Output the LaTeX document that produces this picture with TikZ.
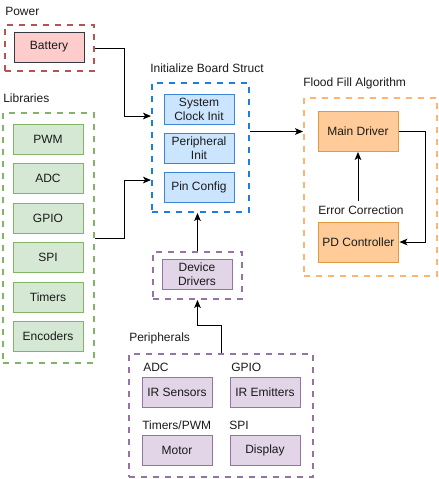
\documentclass[tikz,border=0pt]{standalone}
\usepackage{fontspec}
\setmainfont{Liberation Sans}
\usetikzlibrary{arrows.meta,calc}
\definecolor{redD}{HTML}{B85450}
\definecolor{redF}{HTML}{FFCCCC}
\definecolor{darkS}{HTML}{36393D}
\definecolor{grnD}{HTML}{82B366}
\definecolor{grnF}{HTML}{D5E8D4}
\definecolor{bluD}{HTML}{1A7FE0}
\definecolor{bluF}{HTML}{CCE5FF}
\definecolor{bluS}{HTML}{3D85D6}
\definecolor{orgD}{HTML}{FFB570}
\definecolor{orgF}{HTML}{FFCC99}
\definecolor{orgS}{HTML}{E39A3C}
\definecolor{purD}{HTML}{9673A6}
\definecolor{purF}{HTML}{E1D5E7}
\definecolor{txt}{HTML}{1A1A1A}
\tikzset{
  every node/.style={font=\fontsize{9}{10.5}\selectfont, text=txt},
  group/.style={draw, line width=1.5pt, dash pattern=on 4.5pt off 4.5pt, minimum width=#1},
  inbox/.style={draw, line width=0.75pt, align=center, minimum width=52.5pt, minimum height=22.5pt, inner sep=1pt},
  bigbox/.style={draw, line width=0.75pt, align=center, minimum width=60pt, minimum height=30pt},
  lbl/.style={anchor=west, inner sep=0pt},
  arr/.style={draw=black, line width=0.75pt, -{Stealth[length=6pt,width=5pt,inset=1.5pt]}},
}
\begin{document}
\begin{tikzpicture}[x=0.75pt,y=-0.75pt]
\useasboundingbox (0,0) rectangle (439,479);
% Power
\node[lbl] (lpow) at (5,11) {Power};
\node[group=66.75pt, draw=redD, minimum height=34.5pt] (power) at (49.5,48) {};
\node[inbox, draw=darkS, fill=redF] (bat) at (49,47) {Battery};
% Libraries
\node[lbl] (llib) at (3,98) {Libraries};
\node[group=68.25pt, draw=grnD, minimum height=187.5pt] (lib) at (48.5,238) {};
\node[inbox, draw=grnD, fill=grnF] (pwm) at (48,139) {PWM};
\node[inbox, draw=grnD, fill=grnF] (adc) at (48,178.5) {ADC};
\node[inbox, draw=grnD, fill=grnF] (gpio) at (48,218) {GPIO};
\node[inbox, draw=grnD, fill=grnF] (spi) at (48,257.5) {SPI};
\node[inbox, draw=grnD, fill=grnF] (tim) at (48,297) {Timers};
\node[inbox, draw=grnD, fill=grnF] (enc) at (48,336.5) {Encoders};
% Init
\node[lbl] (linit) at (150,68) {Initialize Board Struct};
\node[group=72.75pt, draw=bluD, minimum height=96.75pt] (init) at (200.5,147.5) {};
\node[inbox, draw=bluS, fill=bluF] (sys) at (199,109) {System\\Clock Init};
\node[inbox, draw=bluS, fill=bluF] (pinit) at (199,148) {Peripheral\\Init};
\node[inbox, draw=bluS, fill=bluF] (pin) at (199,187) {Pin Config};
% Flood fill
\node[lbl] (lflood) at (303,83) {Flood Fill Algorithm};
\node[group=99.75pt, draw=orgD, minimum height=133.5pt] (flood) at (370.5,187) {};
\node[bigbox, draw=orgS, fill=orgF] (main) at (358,131.5) {Main Driver};
\node[lbl] (ec) at (318,210) {Error Correction};
\node[bigbox, draw=orgS, fill=orgF] (pd) at (358.5,242) {PD Controller};
% Device drivers
\node[group=66.75pt, draw=purD, minimum height=35.25pt] (ddbox) at (197.5,275.5) {};
\node[inbox, draw=purD, fill=purF] (dd) at (197,274) {Device\\Drivers};
% Peripherals
\node[lbl] (lper) at (129,338) {Peripherals};
\node[group=138pt, draw=purD, minimum height=92.25pt] (periph) at (221,415.5) {};
\node[lbl] (ladc) at (143,367) {ADC};
\node[lbl] (lgpio) at (231,367) {GPIO};
\node[lbl] (ltim) at (142,425) {Timers/PWM};
\node[lbl] (lspi) at (229,425) {SPI};
\node[inbox, draw=purD, fill=purF] (irs) at (177,392.5) {IR Sensors};
\node[inbox, draw=purD, fill=purF] (ire) at (265,392.5) {IR Emitters};
\node[inbox, draw=purD, fill=purF] (mot) at (177,450) {Motor};
\node[inbox, draw=purD, fill=purF] (disp) at (265,450) {Display};
% Connectors
\draw[arr] (power.east) -- ++(29,0) |- ([yshift=23.6pt]init.west);
\draw[arr] (lib.east) -- ++(29,0) |- ([yshift=-24.4pt]init.west);
\draw[arr] (init.east |- main) -- (flood.west |- main);
\draw[arr] (main.east) -- ++(27,0) |- (pd.east);
\draw[arr] ([yshift=3pt]ec.north -| main.south) -- (main.south);
\draw[arr] (ddbox.north) -- (ddbox.north |- init.south);
\draw[arr] (periph.north) -- ++(0,-28) -| (ddbox.south);
\end{tikzpicture}
\end{document}
